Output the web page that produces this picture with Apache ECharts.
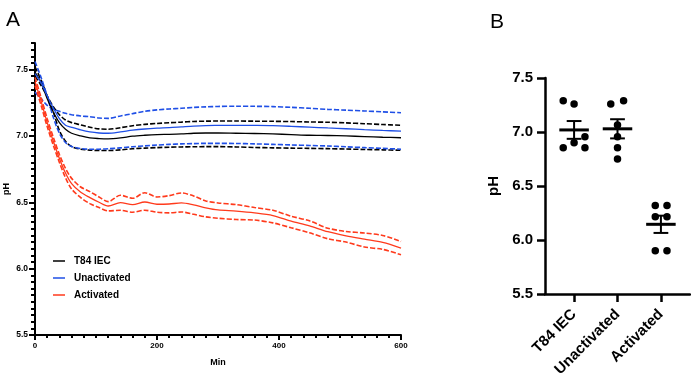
<!DOCTYPE html>
<html><head><meta charset="utf-8">
<script src="https://cdn.jsdelivr.net/npm/echarts@6/dist/echarts.min.js"></script>
<style>html,body{margin:0;padding:0;background:#fff}#c{width:691px;height:390px}</style>
</head><body><div id="c"></div>
<script>
// ---- Panel A data (time course) ----
const timeMin = [0,10,20,30,40,50,60,75,90,105,120,140,160,180,200,220,240,260,280,300,330,360,390,420,450,480,510,540,570,600];
const t84Mean  = [7.48,7.40,7.28,7.18,7.10,7.05,7.02,7.00,6.985,6.98,6.978,6.985,6.998,7.005,7.01,7.012,7.015,7.02,7.022,7.022,7.02,7.018,7.015,7.01,7.005,7.003,7.0,6.995,6.99,6.986];
const t84Upper = [7.45,7.38,7.30,7.22,7.16,7.12,7.10,7.083,7.065,7.053,7.05,7.062,7.077,7.087,7.094,7.099,7.104,7.109,7.111,7.112,7.112,7.111,7.11,7.108,7.105,7.103,7.098,7.092,7.086,7.08];
const t84Lower = [7.52,7.42,7.30,7.18,7.04,6.96,6.92,6.90,6.893,6.89,6.89,6.895,6.903,6.908,6.912,6.915,6.917,6.918,6.919,6.919,6.917,6.913,6.91,6.908,6.906,6.904,6.901,6.898,6.895,6.892];
const unMean   = [7.47,7.40,7.30,7.21,7.13,7.08,7.065,7.045,7.03,7.022,7.02,7.03,7.043,7.052,7.058,7.062,7.068,7.074,7.078,7.079,7.08,7.079,7.077,7.072,7.066,7.06,7.054,7.047,7.041,7.036];
const unUpper  = [7.33,7.28,7.23,7.20,7.185,7.17,7.16,7.15,7.145,7.135,7.132,7.15,7.168,7.185,7.196,7.203,7.208,7.215,7.219,7.222,7.224,7.223,7.221,7.215,7.208,7.2,7.194,7.188,7.181,7.175];
const unLower  = [7.56,7.44,7.30,7.14,7.02,6.95,6.92,6.905,6.90,6.90,6.903,6.91,6.918,6.925,6.931,6.936,6.94,6.942,6.944,6.944,6.943,6.94,6.936,6.932,6.928,6.924,6.918,6.912,6.906,6.90];
const actMean  = [7.41,7.26,7.10,6.96,6.83,6.72,6.64,6.575,6.535,6.50,6.472,6.498,6.482,6.502,6.485,6.487,6.495,6.48,6.458,6.442,6.433,6.42,6.40,6.358,6.322,6.278,6.247,6.222,6.198,6.155];
const actUpper = [7.44,7.29,7.13,6.99,6.86,6.755,6.68,6.615,6.58,6.54,6.505,6.553,6.53,6.572,6.54,6.55,6.57,6.548,6.51,6.495,6.482,6.46,6.44,6.395,6.36,6.305,6.28,6.268,6.25,6.205];
const actLower = [7.38,7.23,7.07,6.93,6.80,6.685,6.60,6.535,6.49,6.46,6.435,6.44,6.425,6.44,6.425,6.42,6.427,6.41,6.39,6.38,6.37,6.366,6.345,6.308,6.27,6.225,6.2,6.163,6.145,6.105];
const yTicksA = [5.5,6.0,6.5,7.0,7.5];

// ---- Panel B data (endpoint pH) ----
const groupsB = ['T84 IEC','Unactivated','Activated'];
const t84Pts = [7.29,7.26,6.955,6.90,6.855,6.855];
const t84Jit = [-0.25,0,0.25,0,-0.25,0.25];
const unPts  = [7.26,7.29,7.065,6.957,6.855,6.75];
const unJit  = [-0.155,0.14,0,0,0,0];
const actPts = [6.32,6.32,6.216,6.216,5.90,5.90];
const actJit = [-0.13,0.14,-0.13,0.14,-0.13,0.14];

const BLACK='#000000', BLUE='#1f4fe6', RED='#ff3a1c';
const FONT='Liberation Sans, Arial, sans-serif';

function pairs(xs, ys){ return xs.map((x,i)=>[x, ys[i]]); }
function lineSeries(name, ys, color, dashed){
  return {type:'line', name, xAxisIndex:0, yAxisIndex:0, data:pairs(timeMin, ys),
    symbol:'none', smooth:0.3, silent:true,
    lineStyle:{color, width: dashed?1.6:1.3, type: dashed?[5,2]:'solid'},
    itemStyle:{color}};
}
const groupPts = [[t84Pts,t84Jit],[unPts,unJit],[actPts,actJit]];
const scatterData = [];
groupPts.forEach((g,gi)=>g[0].forEach((v,i)=>scatterData.push([gi+g[1][i], v])));
const stats = groupPts.map((g,gi)=>{
  const v=g[0], n=v.length, m=v.reduce((a,b)=>a+b,0)/n;
  const sd=Math.sqrt(v.reduce((a,b)=>a+(b-m)*(b-m),0)/(n-1));
  return [gi, m, sd/Math.sqrt(n)];
});

const chart = echarts.init(document.getElementById('c'), null, {renderer:'canvas'});
const axisTxt = {color:'#000', fontWeight:'bold', fontFamily:FONT};
chart.setOption({
  animation:false,
  backgroundColor:'#fff',
  title:[
    {text:'A', left:1, top:5, textStyle:{fontSize:21, fontWeight:'normal', color:'#000', fontFamily:FONT}},
    {text:'B', left:485, top:7, textStyle:{fontSize:21, fontWeight:'normal', color:'#000', fontFamily:FONT}}
  ],
  legend:{data:['T84 IEC','Unactivated','Activated'], orient:'vertical', left:48, top:250,
    icon:'rect', itemWidth:12, itemHeight:1.5, itemGap:5, selectedMode:false,
    textStyle:{fontSize:10, fontWeight:'bold', color:'#000', fontFamily:FONT, padding:[0,0,0,4], lineHeight:12}},
  grid:[
    {left:35, top:43, width:366, height:292, outerBoundsMode:'none', containLabel:false},
    {left:545, top:78, width:145, height:216, outerBoundsMode:'none', containLabel:false}
  ],
  xAxis:[
    {gridIndex:0, type:'value', min:0, max:600, interval:200,
      name:'Min', nameLocation:'middle', nameGap:23, nameMoveOverlap:false, nameTextStyle:Object.assign({fontSize:9},axisTxt),
      axisLine:{onZero:false, lineStyle:{color:'#000', width:2}},
      axisTick:{length:5, lineStyle:{width:2, color:'#000'}},
      minorTick:{show:true, splitNumber:10, length:3, lineStyle:{width:2, color:'#000'}},
      axisLabel:Object.assign({fontSize:8, margin:7},axisTxt), splitLine:{show:false}},
    {gridIndex:1, type:'value', min:-0.67, max:2.67,
      axisLine:{onZero:false, lineStyle:{color:'#000', width:2.5}},
      axisTick:{customValues:[0,1,2], length:8, lineStyle:{width:2.5, color:'#000'}},
      axisLabel:Object.assign({customValues:[0,1,2], rotate:45, fontSize:15, margin:18,
        formatter:v=>groupsB[Math.round(v)]},axisTxt), splitLine:{show:false}}
  ],
  yAxis:[
    {gridIndex:0, type:'value', position:'left', offset:0, min:5.5, max:7.7, interval:0.05,
      axisLine:{show:true, onZero:false, lineStyle:{color:'#000', width:2}},
      axisTick:{show:true, length:4, lineStyle:{width:2, color:'#000'}},
      axisLabel:{show:false}, splitLine:{show:false}},
    {gridIndex:0, type:'value', position:'left', offset:0, min:5.5, max:7.7,
      name:'pH', nameLocation:'middle', nameGap:24, nameMoveOverlap:false, nameTextStyle:Object.assign({fontSize:9},axisTxt),
      axisLine:{show:false, onZero:false},
      axisTick:{show:true, customValues:yTicksA, length:6, lineStyle:{width:2, color:'#000'}},
      axisLabel:Object.assign({customValues:yTicksA, fontSize:8.5, margin:7, formatter:v=>v.toFixed(1)},axisTxt),
      splitLine:{show:false}},
    {gridIndex:1, type:'value', position:'left', min:5.5, max:7.5, interval:0.5,
      name:'pH', nameLocation:'middle', nameGap:44, nameMoveOverlap:false, nameTextStyle:Object.assign({fontSize:15},axisTxt),
      axisLine:{show:true, onZero:false, lineStyle:{color:'#000', width:2.5}},
      axisTick:{length:8, lineStyle:{width:2.5, color:'#000'}},
      axisLabel:Object.assign({fontSize:15, margin:12, formatter:v=>v.toFixed(1)},axisTxt),
      splitLine:{show:false}}
  ],
  series:[
    lineSeries('T84 IEC upper', t84Upper, BLACK, true),
    lineSeries('T84 IEC lower', t84Lower, BLACK, true),
    lineSeries('Unactivated upper', unUpper, BLUE, true),
    lineSeries('Unactivated lower', unLower, BLUE, true),
    lineSeries('Activated upper', actUpper, RED, true),
    lineSeries('Activated lower', actLower, RED, true),
    lineSeries('T84 IEC', t84Mean, BLACK, false),
    lineSeries('Unactivated', unMean, BLUE, false),
    lineSeries('Activated', actMean, RED, false),
    {type:'scatter', xAxisIndex:1, yAxisIndex:2, data:scatterData, symbolSize:7.5,
      itemStyle:{color:'#000', opacity:1}, silent:true},
    {type:'custom', xAxisIndex:1, yAxisIndex:2, data:stats, silent:true,
      renderItem:function(params, api){
        const g=api.value(0), m=api.value(1), s=api.value(2);
        const l=api.coord([g-0.34,m]), r=api.coord([g+0.34,m]);
        const top=api.coord([g,m+s]), bot=api.coord([g,m-s]);
        const cl1=api.coord([g-0.17,m+s]), cr1=api.coord([g+0.17,m+s]);
        const cl2=api.coord([g-0.17,m-s]), cr2=api.coord([g+0.17,m-s]);
        const st={stroke:'#000', lineWidth:2};
        return {type:'group', children:[
          {type:'line', shape:{x1:l[0],y1:l[1],x2:r[0],y2:r[1]}, style:{stroke:'#000', lineWidth:3}},
          {type:'line', shape:{x1:top[0],y1:top[1],x2:bot[0],y2:bot[1]}, style:st},
          {type:'line', shape:{x1:cl1[0],y1:cl1[1],x2:cr1[0],y2:cr1[1]}, style:st},
          {type:'line', shape:{x1:cl2[0],y1:cl2[1],x2:cr2[0],y2:cr2[1]}, style:st}
        ]};
      }}
  ]
});
</script></body></html>
